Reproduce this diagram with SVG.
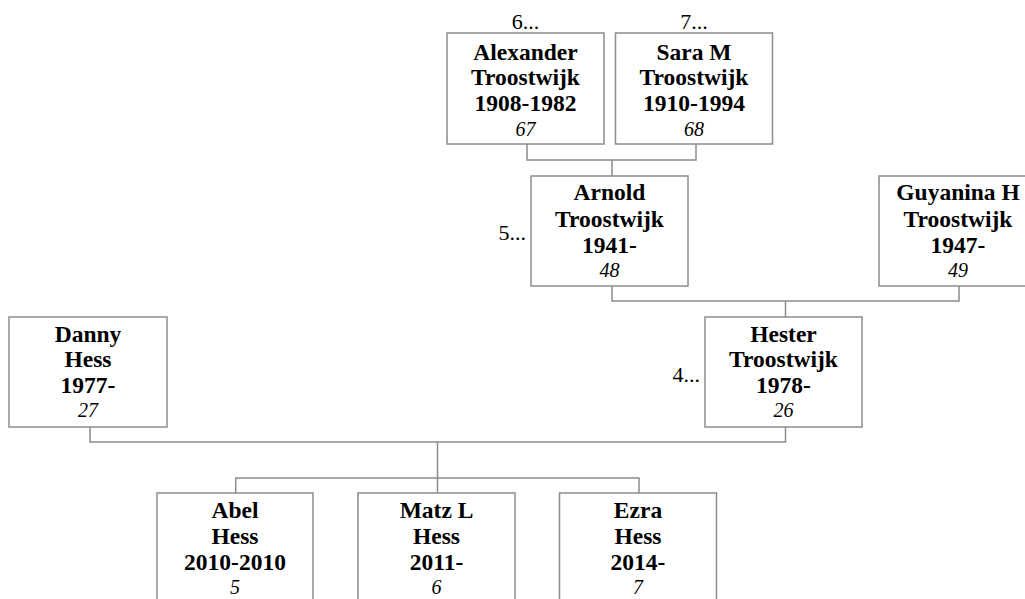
<svg xmlns="http://www.w3.org/2000/svg" width="1025" height="599" viewBox="0 0 1025 599">
<style>
.box{fill:#fff;stroke:#8c8c8c;stroke-width:1.5}
.ln{fill:none;stroke:#8c8c8c;stroke-width:1.5}
.nm{font-family:"Liberation Serif","Times New Roman",serif;font-weight:bold;font-size:23.5px;text-anchor:middle;fill:#000}
.no{font-family:"Liberation Serif","Times New Roman",serif;font-style:italic;font-size:20px;text-anchor:middle;fill:#000}
.more{font-family:"Liberation Serif","Times New Roman",serif;font-size:22px;fill:#000}
</style>
<rect width="1025" height="599" fill="#fff"/>
<g id="connectors">
<path class="ln" d="M527 144V160H696V144M612 160V176"/>
<path class="ln" d="M612 286V301H959V286M785.5 301V317"/>
<path class="ln" d="M90 426V442H785.5V427M437.5 442V493"/>
<path class="ln" d="M235.7 493V478H639V493"/>
</g>
<g id="alexander">
<rect class="box" x="447" y="33" width="157" height="111"/>
<text class="more" x="525.5" y="29" text-anchor="middle">6...</text>
<text class="nm" x="525.5" y="60">Alexander</text>
<text class="nm" x="525.5" y="85">Troostwijk</text>
<text class="nm" x="525.5" y="111">1908-1982</text>
<text class="no" x="525.5" y="136">67</text>
</g>
<g id="sara">
<rect class="box" x="615.5" y="33" width="157" height="111"/>
<text class="more" x="694" y="29" text-anchor="middle">7...</text>
<text class="nm" x="694" y="60">Sara M</text>
<text class="nm" x="694" y="85">Troostwijk</text>
<text class="nm" x="694" y="111">1910-1994</text>
<text class="no" x="694" y="136">68</text>
</g>
<g id="arnold">
<rect class="box" x="531" y="176" width="157" height="110"/>
<text class="more" x="526" y="240" text-anchor="end">5...</text>
<text class="nm" x="609.5" y="200">Arnold</text>
<text class="nm" x="609.5" y="227">Troostwijk</text>
<text class="nm" x="609.5" y="253">1941-</text>
<text class="no" x="609.5" y="277">48</text>
</g>
<g id="guyanina">
<rect class="box" x="879" y="176" width="157" height="110"/>
<text class="nm" x="958" y="200">Guyanina H</text>
<text class="nm" x="958" y="227">Troostwijk</text>
<text class="nm" x="958" y="253">1947-</text>
<text class="no" x="958" y="277">49</text>
</g>
<g id="danny">
<rect class="box" x="9" y="317" width="158" height="110"/>
<text class="nm" x="88" y="342">Danny</text>
<text class="nm" x="88" y="367">Hess</text>
<text class="nm" x="88" y="393">1977-</text>
<text class="no" x="88" y="417">27</text>
</g>
<g id="hester">
<rect class="box" x="705" y="317" width="157" height="110"/>
<text class="more" x="700" y="382" text-anchor="end">4...</text>
<text class="nm" x="783.5" y="342">Hester</text>
<text class="nm" x="783.5" y="367">Troostwijk</text>
<text class="nm" x="783.5" y="393">1978-</text>
<text class="no" x="783.5" y="417">26</text>
</g>
<g id="abel">
<rect class="box" x="157" y="493" width="156" height="111"/>
<text class="nm" x="235" y="518">Abel</text>
<text class="nm" x="235" y="544">Hess</text>
<text class="nm" x="235" y="570">2010-2010</text>
<text class="no" x="235" y="594">5</text>
</g>
<g id="matz">
<rect class="box" x="358" y="493" width="157" height="111"/>
<text class="nm" x="436.5" y="518">Matz L</text>
<text class="nm" x="436.5" y="544">Hess</text>
<text class="nm" x="436.5" y="570">2011-</text>
<text class="no" x="436.5" y="594">6</text>
</g>
<g id="ezra">
<rect class="box" x="559.5" y="493" width="157" height="111"/>
<text class="nm" x="638" y="518">Ezra</text>
<text class="nm" x="638" y="544">Hess</text>
<text class="nm" x="638" y="570">2014-</text>
<text class="no" x="638" y="594">7</text>
</g>
</svg>
